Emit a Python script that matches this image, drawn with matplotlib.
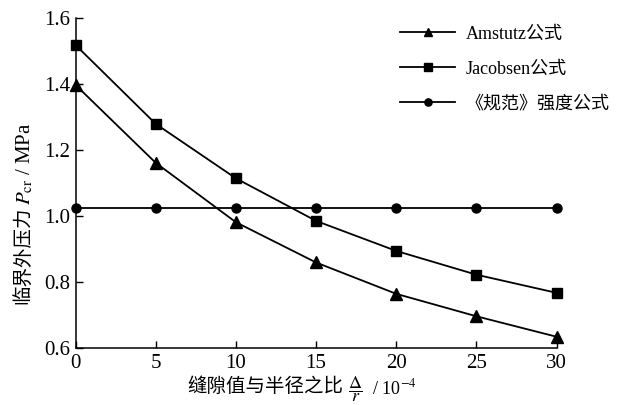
import numpy as np
import matplotlib.pyplot as plt

plt.rcParams['font.family'] = ['Liberation Serif', 'Noto Sans CJK SC']
plt.rcParams['mathtext.fontset'] = 'stix'

# 缝隙值与半径之比 (×10^-4)
gap_ratio = [0, 5, 10, 15, 20, 25, 30]
amstutz = [1.398, 1.162, 0.982, 0.860, 0.765, 0.697, 0.635]
jacobsen = [1.519, 1.280, 1.115, 0.986, 0.895, 0.823, 0.768]
code_strength = [1.025, 1.025, 1.025, 1.025, 1.025, 1.025, 1.025]

labels = ['Amstutz公式', 'Jacobsen公式', '《规范》强度公式']
markers = ['^', 's', 'o']
msizes = [8, 7, 6.5]

fig = plt.figure(figsize=(6.24, 4.05), dpi=100)
ax = fig.add_axes([0.121, 0.14, 0.771, 0.815])

for y, lab, m, ms in zip([amstutz, jacobsen, code_strength], labels, markers, msizes):
    ax.plot(gap_ratio, y, color='black', lw=1.3, marker=m, ms=ms, label=lab, clip_on=False)

ax.set_xlim(0, 30)
ax.set_ylim(0.6, 1.6)
ax.set_xticks([0, 5, 10, 15, 20, 25, 30])
ax.set_yticks([0.6, 0.8, 1.0, 1.2, 1.4, 1.6])
ax.set_yticklabels(['0.6', '0.8', '1.0', '1.2', '1.4', '1.6'])
ax.tick_params(direction='in', length=5, width=1, labelsize=15, pad=4)
for side in ['top', 'right']:
    ax.spines[side].set_visible(False)
for side in ['left', 'bottom']:
    ax.spines[side].set_linewidth(1.1)

# axis titles: CJK part and math part drawn as separate texts
fig.text(23 / 624, 1 - 304 / 405, '临界外压力', rotation=90, ha='center', va='bottom',
         fontsize=14, family='Noto Sans CJK SC')
fig.text(25 / 624, 1 - 205 / 405, r'$P_{\rm cr}$ / MPa', rotation=90, ha='center', va='bottom',
         fontsize=15)
fig.text(343 / 624, 1 - 387 / 405, '缝隙值与半径之比', ha='right', va='center',
         fontsize=14, family='Noto Sans CJK SC')
fig.text(348 / 624, 1 - 389 / 405, r'$\dfrac{\Delta}{r}$  / 10$^{-4}$', ha='left', va='center',
         fontsize=13)

leg = fig.legend(loc='upper left', bbox_to_anchor=(0.615, 0.977), frameon=False,
                 fontsize=13, handlelength=3.05, handletextpad=0.6, labelspacing=1.0,
                 markerscale=0.8)

fig.savefig('out.png', dpi=100)
